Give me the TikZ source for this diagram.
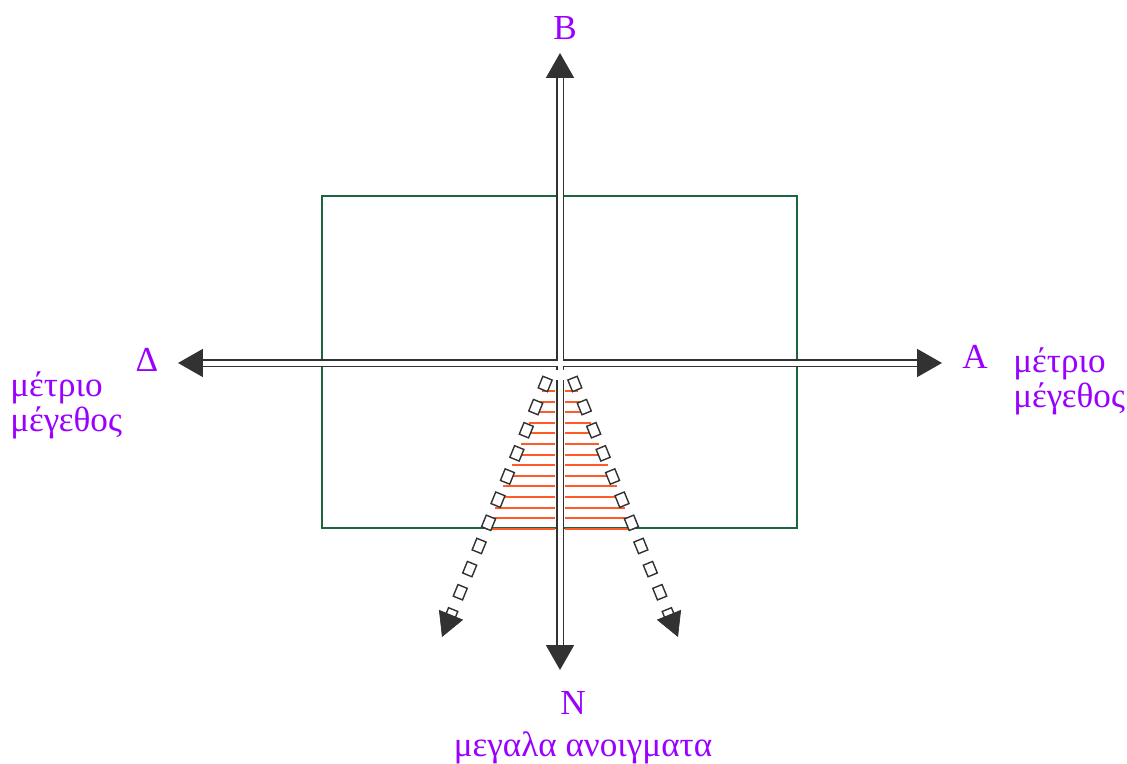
\documentclass[tikz,border=0pt]{standalone}
\usepackage{fontspec}
\setmainfont{Liberation Serif}
\usetikzlibrary{arrows.meta,calc,decorations.markings}
\definecolor{morado}{RGB}{153,0,255}
\definecolor{verde}{RGB}{30,100,60}
\definecolor{rayado}{RGB}{255,90,40}
\definecolor{gris}{RGB}{50,50,50}

\begin{document}
\begin{tikzpicture}[x=0.02cm, y=-0.02cm,
    eje/.style={draw=gris, line width=1.1pt, double=white, double distance=0.1cm,
      -{Triangle[length=0.5cm, width=0.56cm]}},
    caja/.style={draw=gris, fill=white, line width=0.8pt, inner sep=0pt,
      minimum width=0.25cm, minimum height=0.2cm},
    abierto/.style={decoration={markings, mark=between positions 0.15cm and 5.4cm step 0.5cm
      with {\node[caja, transform shape] {};}}, decorate},
    punta/.style={draw=gris, -{Triangle[length=0.48cm, width=0.52cm]}},
    etiqueta/.style={text=morado, font=\fontsize{20}{20}\selectfont, inner sep=0pt}]
  \useasboundingbox (0,0) rectangle (1127,764);

  % Puntos
  \coordinate (O) at (560,363);
  \coordinate (pB) at (560,53);
  \coordinate (pN) at (560,670);
  \coordinate (pA) at (942,363);
  \coordinate (pD) at (178,363);
  \coordinate (iz0) at (548,377);
  \coordinate (iz1) at (442,637);
  \coordinate (de0) at (572,377);
  \coordinate (de1) at (678,637);

  % Rectangulo
  \draw[verde, line width=0.8pt] (322,196) rectangle (797,528);

  % Rayado
  \foreach \k in {0,...,13} {
    \pgfmathsetmacro{\yy}{391+10.6*\k}
    \pgfmathsetmacro{\xi}{548-0.4077*(\yy-377)}
    \pgfmathsetmacro{\xd}{572+0.4077*(\yy-377)}
    \draw[rayado, line width=1.2pt] (\xi,\yy) -- (555,\yy) (565,\yy) -- (\xd,\yy);
  }

  % Ejes
  \draw[eje] (O) -- (pB);
  \draw[eje] (560,380) -- (pN);
  \draw[eje] (O) -- (pA);
  \draw[eje] (O) -- (pD);
  \draw[eje, -] (560,343) -- (560,369.5) (540,363) -- (580,363);

  % Aberturas
  \path[abierto] (iz0) -- (iz1);
  \path[abierto] (de0) -- (de1);
  \draw[punta] ($(iz1)!0.48cm!(iz0)$) -- (iz1);
  \draw[punta] ($(de1)!0.48cm!(de0)$) -- (de1);

  % Rotulos
  \node[etiqueta] (B) at (565,28) {B};
  \node[etiqueta] (N) at (573,703) {N};
  \node[etiqueta] (A) at (975,357) {A};
  \node[etiqueta] (D) at (147,360) {Δ};
  \node[etiqueta, align=left, anchor=west] (mD) at (10,405) {μέτριο\\μέγεθος};
  \node[etiqueta, align=left, anchor=west] (mA) at (1013,381) {μέτριο\\μέγεθος};
  \node[etiqueta] (mN) at (583,748) {μεγαλα ανοιγματα};
\end{tikzpicture}
\end{document}
